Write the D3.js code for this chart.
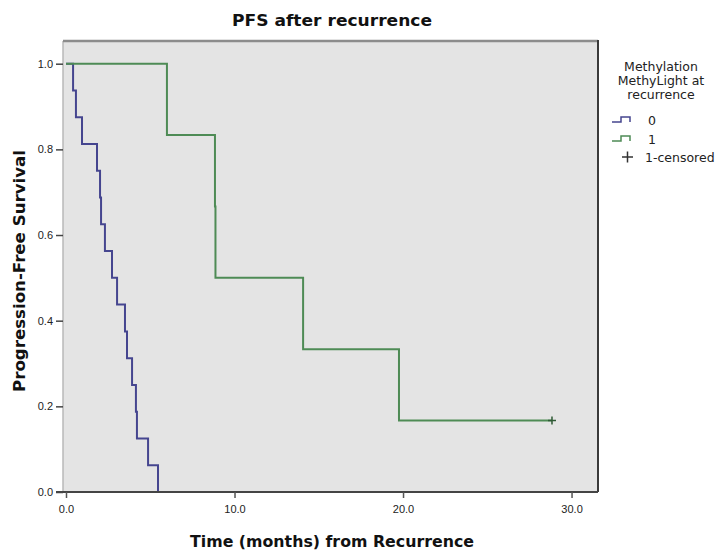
<!DOCTYPE html>
<html>
<head>
<meta charset="utf-8">
<script src="https://cdn.jsdelivr.net/npm/d3@7/dist/d3.min.js"></script>
<style>
  html, body { margin: 0; padding: 0; background: #ffffff; }
  svg { display: block; font-family: "DejaVu Sans", "Liberation Sans", Arial, sans-serif; }
</style>
</head>
<body>
<svg id="chart" width="724" height="553"></svg>
<script>
// Kaplan-Meier event times (months) and survival after each event, per methylation group
const group0Times = [0.42, 0.59, 0.95, 1.84, 2.02, 2.08, 2.31, 2.73, 3.03, 3.50, 3.62, 3.92, 4.15, 4.21, 4.87, 5.46];
const group0Surv  = [0.9375, 0.875, 0.8125, 0.75, 0.6875, 0.625, 0.5625, 0.5, 0.4375, 0.375, 0.3125, 0.25, 0.1875, 0.125, 0.0625, 0.0];
const group1Times = [5.99, 8.84, 8.87, 14.07, 19.76];
const group1Surv  = [0.8333, 0.6667, 0.5, 0.3333, 0.1667];
const group1Censored = [28.84];
const group1CensoredSurv = [0.1667];

const xTicks = [0, 10, 20, 30];
const yTicks = [0, 0.2, 0.4, 0.6, 0.8, 1.0];
const legendTitle = ["Methylation", "MethyLight at", "recurrence"];
const legendLabels = ["0", "1", "1-censored"];

const colors = { g0: "#45458f", g1: "#4e8b55", censor: "#2f5a35", frame: "#3a3a3a" };

const svg = d3.select("#chart");
const plot = { left: 63, right: 598, top: 41, bottom: 492 };

const x = d3.scaleLinear().domain([-0.178, 31.57]).range([plot.left, plot.right]);
const y = d3.scaleLinear().domain([0, 1.053]).range([plot.bottom, plot.top]);

// plot background
svg.append("rect")
  .attr("x", plot.left).attr("y", plot.top)
  .attr("width", plot.right - plot.left).attr("height", plot.bottom - plot.top)
  .attr("fill", "#e4e4e4");

// frame: light left edge, grey top, dark right edge
svg.append("line").attr("x1", plot.left).attr("x2", plot.left)
  .attr("y1", plot.top).attr("y2", plot.bottom)
  .attr("stroke", "#b8b8b8").attr("stroke-width", 1.5);
svg.append("line").attr("x1", plot.left).attr("x2", plot.right)
  .attr("y1", plot.top).attr("y2", plot.top)
  .attr("stroke", "#8c8c8c").attr("stroke-width", 2.5);
svg.append("line").attr("x1", plot.right).attr("x2", plot.right)
  .attr("y1", plot.top - 1).attr("y2", plot.bottom)
  .attr("stroke", colors.frame).attr("stroke-width", 2);

// step path for a KM curve, starting at survival 1.0 from time 0
function stepPoints(times, surv, endTime) {
  const pts = [[0, 1]];
  let prev = 1;
  times.forEach((t, i) => {
    pts.push([t, prev]);
    pts.push([t, surv[i]]);
    prev = surv[i];
  });
  if (endTime !== undefined) pts.push([endTime, prev]);
  return pts;
}

const line = d3.line().x(d => x(d[0])).y(d => y(d[1]));

svg.append("path")
  .datum(stepPoints(group0Times, group0Surv))
  .attr("d", line)
  .attr("fill", "none").attr("stroke", colors.g0).attr("stroke-width", 2);

svg.append("path")
  .datum(stepPoints(group1Times, group1Surv, group1Censored[0]))
  .attr("d", line)
  .attr("fill", "none").attr("stroke", colors.g1).attr("stroke-width", 2);

// censor marks
group1Censored.forEach((t, i) => {
  const cx = x(t), cy = y(group1CensoredSurv[i]);
  svg.append("path")
    .attr("d", `M${cx - 4},${cy}H${cx + 4}M${cx},${cy - 4}V${cy + 4}`)
    .attr("stroke", colors.censor).attr("stroke-width", 1.5);
});

// axes
const xAxis = svg.append("g")
  .attr("transform", `translate(0,${plot.bottom})`)
  .call(d3.axisBottom(x).tickValues(xTicks).tickFormat(d3.format(".1f")).tickSize(6).tickSizeOuter(0));
xAxis.select(".domain").attr("stroke", "#444").attr("stroke-width", 2)
  .attr("d", `M${plot.left - 7},0H${plot.right}`);
xAxis.selectAll(".tick line").attr("stroke", "#555").attr("stroke-width", 1.5);
xAxis.selectAll(".tick text").attr("font-size", 11).attr("fill", "#222").attr("y", 13).attr("dy", "0.71em");

const yAxis = svg.append("g")
  .attr("transform", `translate(${plot.left},0)`)
  .call(d3.axisLeft(y).tickValues(yTicks).tickFormat(d3.format(".1f")).tickSize(7).tickSizeOuter(0));
yAxis.select(".domain").remove();
yAxis.selectAll(".tick line").attr("stroke", "#444").attr("stroke-width", 1.5);
yAxis.selectAll(".tick text").attr("font-size", 11).attr("fill", "#222").attr("x", -10);

// titles
svg.append("text").attr("x", 332).attr("y", 26).attr("text-anchor", "middle")
  .attr("font-size", 15).attr("font-weight", "bold").attr("fill", "#111")
  .attr("textLength", 200).attr("lengthAdjust", "spacingAndGlyphs")
  .text("PFS after recurrence");
svg.append("text").attr("x", 332).attr("y", 547).attr("text-anchor", "middle")
  .attr("font-size", 15).attr("font-weight", "bold").attr("fill", "#111")
  .attr("textLength", 284).attr("lengthAdjust", "spacingAndGlyphs")
  .text("Time (months) from Recurrence");
svg.append("text").attr("transform", `translate(25,271) rotate(-90)`)
  .attr("text-anchor", "middle")
  .attr("font-size", 15).attr("font-weight", "bold").attr("fill", "#111")
  .attr("textLength", 242).attr("lengthAdjust", "spacingAndGlyphs")
  .text("Progression-Free Survival");

// legend
const lg = svg.append("g");
legendTitle.forEach((t, i) => {
  lg.append("text").attr("x", 661).attr("y", 71 + i * 14).attr("text-anchor", "middle")
    .attr("font-size", 12.5).attr("fill", "#222").text(t);
});
const legendRows = [
  { label: legendLabels[0], color: colors.g0, y: 120 },
  { label: legendLabels[1], color: colors.g1, y: 139 }
];
legendRows.forEach(r => {
  lg.append("path")
    .attr("d", `M612,${r.y + 2}H621V${r.y - 3}H630V${r.y + 2}`)
    .attr("fill", "none").attr("stroke", r.color).attr("stroke-width", 1.5);
  lg.append("text").attr("x", 648).attr("y", r.y + 4.5)
    .attr("font-size", 12.5).attr("fill", "#222").text(r.label);
});
lg.append("path")
  .attr("d", "M622,157H633M627.5,151.5V162.5")
  .attr("stroke", "#333").attr("stroke-width", 1.5);
lg.append("text").attr("x", 645).attr("y", 161.5)
  .attr("font-size", 12.5).attr("fill", "#222").text(legendLabels[2]);
</script>
</body>
</html>
